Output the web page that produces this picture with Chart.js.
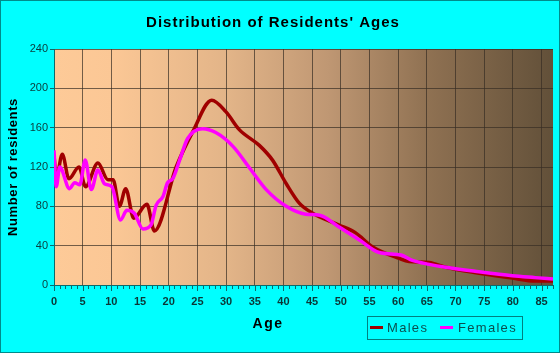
<!DOCTYPE html>
<html>
<head>
<meta charset="utf-8">
<script src="https://cdn.jsdelivr.net/npm/chart.js@4/dist/chart.umd.min.js"></script>
<style>
  html, body { margin: 0; padding: 0; background: #00ffff; }
  #wrap { width: 560px; height: 353px; position: relative; }
</style>
</head>
<body>
<div id="wrap"><canvas id="ages" width="560" height="353"></canvas></div>
<script>
// values (age in years -> residents)
const maleAges = [0, 0.4, 1.45, 2.6, 4.35, 5.5, 7.65, 9.4, 10.3, 11.4, 12.5, 13.9, 16.2, 17.5, 21.3, 24.2, 27.5, 30, 32.3, 35.8, 38.1, 40.5, 42.8, 45.1, 49.7, 52.6, 55.5, 60.2, 61.9, 65.4, 68.3, 74.1, 79.9, 83.9, 87];
const maleCounts = [132, 109, 133, 108, 120, 100, 124, 107, 107, 80, 98, 68, 82, 55, 120, 156, 188, 176, 158, 142, 127, 103, 83, 73, 61, 53, 39, 27, 24, 23, 18, 12, 7, 4, 4];

const femaleAges = [0, 0.4, 1, 2.7, 3.6, 4.5, 5.45, 6.5, 7.65, 8.8, 10.1, 11.6, 12.7, 14, 15.5, 16.9, 17.8, 19, 19.8, 20.7, 21.9, 23.3, 25.9, 28.2, 31.2, 34.1, 37, 40.5, 43.9, 46.3, 49.7, 53.2, 56.7, 60.5, 62.5, 65.4, 68.3, 74.1, 79.9, 83.9, 87];
const femaleCounts = [137, 100, 120, 98, 104, 102, 127, 97, 117, 103, 100, 66, 76, 73, 57, 61, 81, 90, 104, 108, 127, 149, 159, 155, 141, 119, 97, 80, 72, 71, 59, 46, 33, 30.5, 25, 21, 18, 13.5, 9.5, 7.5, 6];

const seriesNames = ["Males", "Females"];
const seriesColors = ["#a00000", "#ff00ff"];

function toPoints(xs, ys) {
  return xs.map((x, i) => ({ x: x, y: ys[i] }));
}

// background, gradient plot area, titles, legend, minor ticks
const decor = {
  id: "decor",
  beforeDraw(chart) {
    const { ctx, chartArea: a, width, height } = chart;
    ctx.save();
    ctx.fillStyle = "#00ffff";
    ctx.fillRect(0, 0, width, height);
    const g = ctx.createLinearGradient(a.left, 0, a.right, 0);
    g.addColorStop(0, "#fdca98");
    g.addColorStop(0.12, "#fbc795");
    g.addColorStop(0.35, "#e2b488");
    g.addColorStop(0.55, "#bf9773");
    g.addColorStop(0.75, "#8f7152");
    g.addColorStop(1, "#625039");
    ctx.fillStyle = g;
    ctx.fillRect(a.left, a.top, a.right - a.left, a.bottom - a.top);
    ctx.restore();
  },
  afterDraw(chart) {
    const { ctx, chartArea: a, width, height } = chart;
    const xs = chart.scales.x;
    ctx.save();

    // minor ticks every year
    ctx.strokeStyle = "#0b6b6b";
    ctx.lineWidth = 1;
    ctx.beginPath();
    for (let i = 0; i <= 87; i++) {
      const px = Math.round(xs.getPixelForValue(i)) + 0.5;
      ctx.moveTo(px, a.bottom);
      ctx.lineTo(px, a.bottom + (i % 5 === 0 ? 6 : 4));
    }
    ctx.stroke();

    // outer border
    ctx.strokeStyle = "#008b8b";
    ctx.strokeRect(0.5, 0.5, width - 1, height - 1);

    ctx.fillStyle = "#000";
    ctx.textAlign = "center";
    ctx.textBaseline = "middle";

    ctx.font = "bold 15px 'Liberation Sans', Arial, sans-serif";
    ctx.letterSpacing = "1px";
    ctx.fillText("Distribution of Residents' Ages", 273, 23);

    ctx.font = "bold 14px 'Liberation Sans', Arial, sans-serif";
    ctx.letterSpacing = "1.5px";
    ctx.fillText("Age", 268, 324);

    ctx.save();
    ctx.translate(13, 167);
    ctx.rotate(-Math.PI / 2);
    ctx.font = "bold 13px 'Liberation Sans', Arial, sans-serif";
    ctx.letterSpacing = "0.6px";
    ctx.fillText("Number of residents", 0, 0);
    ctx.restore();

    // legend
    ctx.strokeStyle = "#008080";
    ctx.strokeRect(367.5, 316.5, 155, 23);
    const items = [
      { x: 370, tx: 387 },
      { x: 440, tx: 458 },
    ];
    ctx.font = "13px 'Liberation Sans', Arial, sans-serif";
    ctx.letterSpacing = "1.3px";
    ctx.textAlign = "left";
    items.forEach((it, i) => {
      ctx.fillStyle = seriesColors[i];
      ctx.fillRect(it.x, 326, 13, 3);
      ctx.fillStyle = "#0a4f4f";
      ctx.fillText(seriesNames[i], it.tx, 328);
    });
    ctx.restore();
  },
};

new Chart(document.getElementById("ages"), {
  type: "line",
  data: {
    datasets: [
      {
        label: seriesNames[1],
        data: toPoints(femaleAges, femaleCounts),
        borderColor: seriesColors[1],
        borderWidth: 3.5,
        pointRadius: 0,
        cubicInterpolationMode: "monotone",
      },
      {
        label: seriesNames[0],
        data: toPoints(maleAges, maleCounts),
        borderColor: seriesColors[0],
        borderWidth: 3.5,
        pointRadius: 0,
        cubicInterpolationMode: "monotone",
      },
    ],
  },
  options: {
    responsive: false,
    animation: false,
    devicePixelRatio: 1,
    layout: {
      padding: { left: 0, right: 7, top: 49, bottom: 0 },
    },
    plugins: {
      legend: { display: false },
      title: { display: false },
      tooltip: { enabled: false },
    },
    scales: {
      x: {
        type: "linear",
        min: 0,
        max: 87,
        afterFit(scale) {
          scale.height = 68;
        },
        afterBuildTicks(scale) {
          const t = [];
          for (let v = 0; v <= 85; v += 5) t.push({ value: v });
          scale.ticks = t;
        },
        grid: {
          color: "rgba(55,45,35,0.7)",
          drawTicks: false,
        },
        border: { color: "#0b6b6b", width: 1 },
        ticks: {
          padding: 10,
          maxRotation: 0,
          autoSkip: false,
          color: "#0a3636",
          font: { family: "'Liberation Sans', Arial, sans-serif", size: 11, weight: "bold" },
        },
      },
      y: {
        min: 0,
        max: 240,
        afterFit(scale) {
          scale.width = 54;
        },
        grid: {
          color: "rgba(55,45,35,0.7)",
          tickColor: "#0b6b6b",
          tickLength: 4,
        },
        border: { color: "#0b6b6b", width: 1 },
        ticks: {
          stepSize: 40,
          padding: 2,
          color: "#0a4040",
          font: { family: "'Liberation Sans', Arial, sans-serif", size: 11 },
        },
      },
    },
  },
  plugins: [decor],
});
</script>
</body>
</html>
